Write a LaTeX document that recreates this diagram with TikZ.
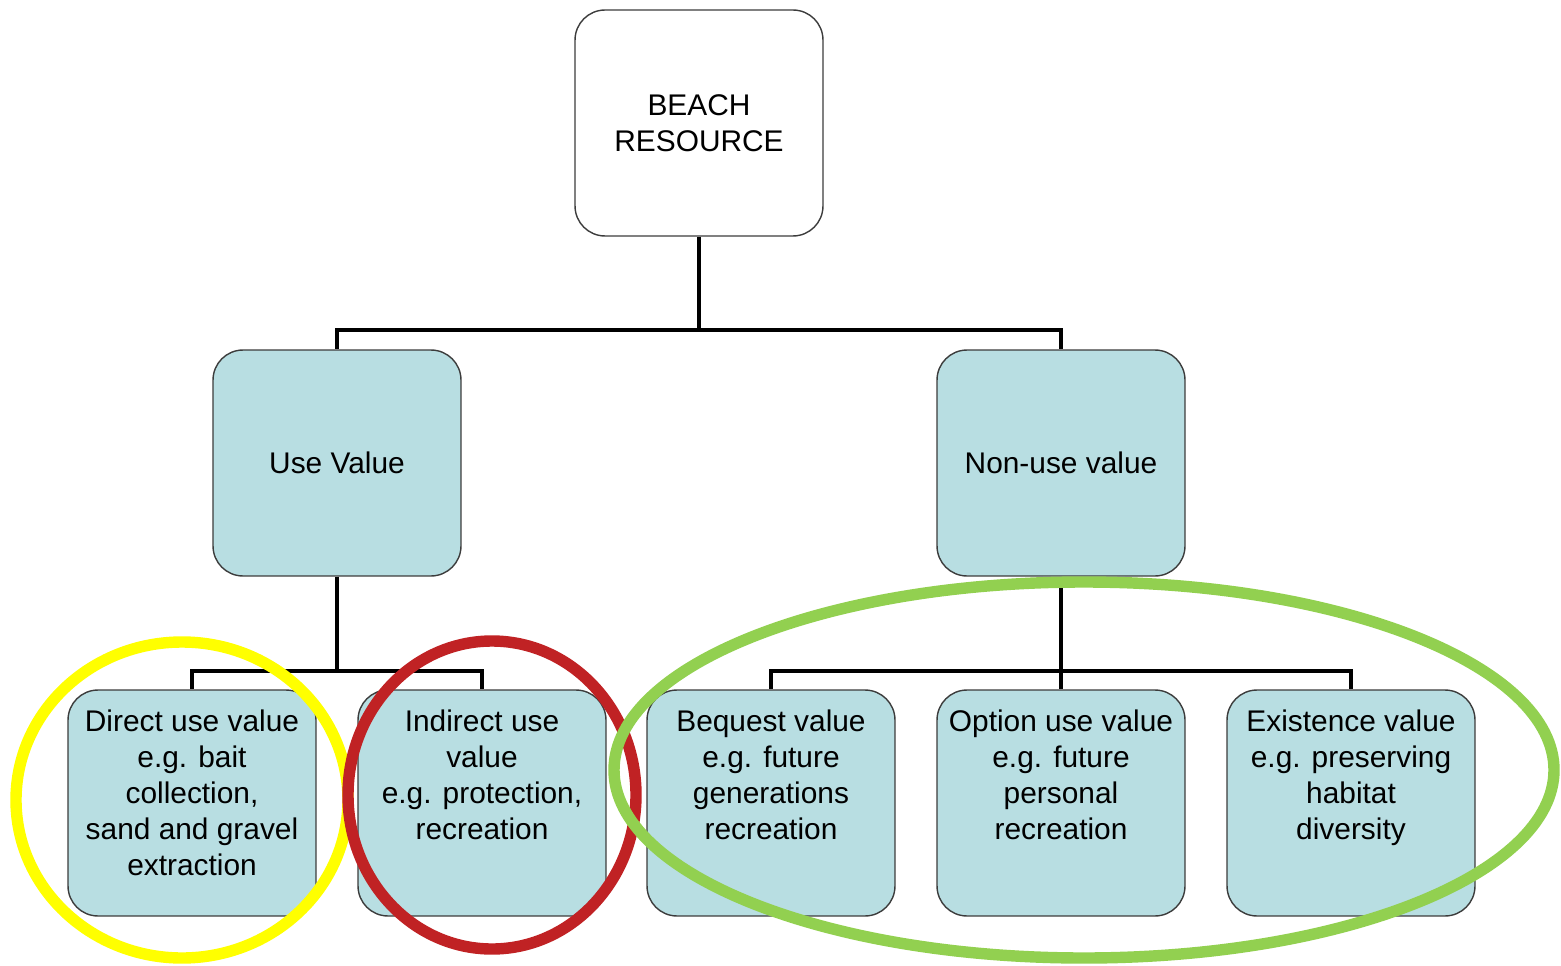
\documentclass[tikz,border=0pt]{standalone}
\usepackage{fontspec}
\setmainfont{Liberation Sans}
\usepackage{tikz}
\usetikzlibrary{positioning}
\usetikzlibrary{calc}
\definecolor{boxblue}{RGB}{184,222,226}
\definecolor{boxline}{RGB}{60,60,60}
\definecolor{ringyellow}{RGB}{255,255,0}
\definecolor{ringred}{RGB}{192,34,36}
\definecolor{ringgreen}{RGB}{146,208,80}

\tikzset{
    valuebox/.style={draw=boxline, line width=0.8pt, rounded corners=0.6cm, minimum width=4.96cm, minimum height=4.52cm, align=center},
    leafbox/.style={valuebox, fill=boxblue, inner sep=0pt},
    link/.style={line width=2.2pt, black},
    ring/.style={line width=6.5pt}
}
\newcommand{\leaftext}[1]{\parbox[c][4.2cm][t]{4.9cm}{\vspace*{0.24cm}\centering #1}}

\begin{document}
\begin{tikzpicture}[x=0.02cm, y=-0.02cm, every node/.style={font=\fontsize{17}{20.5}\selectfont}]
        \useasboundingbox (0,0) rectangle (1561,966);

        % Top box
        \node[valuebox, fill=white] (beach) at (699,123) {BEACH\\RESOURCE};

        % Middle boxes
        \node[valuebox, fill=boxblue] (use) at (337,463) {Use Value};
        \node[valuebox, fill=boxblue] (nonuse) at (1061,463) {Non-use value};

        % Bottom boxes
        \node[leafbox] (direct) at (192,803) {\leaftext{Direct use value\\e.g. bait\\collection,\\sand and gravel\\extraction}};
        \node[leafbox] (indirect) at (482,803) {\leaftext{Indirect use\\value\\e.g. protection,\\recreation}};
        \node[leafbox] (bequest) at (771,803) {\leaftext{Bequest value\\e.g. future\\generations\\recreation}};
        \node[leafbox] (option) at (1061,803) {\leaftext{Option use value\\e.g. future\\personal\\recreation}};
        \node[leafbox] (existence) at (1351,803) {\leaftext{Existence value\\e.g. preserving\\habitat\\diversity}};

        % Connectors
        \coordinate (topbus) at (699,330);
        \coordinate (usebus) at (337,671);
        \coordinate (nonusebus) at (1061,671);
        \draw[link] (beach) -- (topbus) -| (use);
        \draw[link] (topbus) -| (nonuse);
        \draw[link] (use) -- (usebus) -| (direct);
        \draw[link] (usebus) -| (indirect);
        \draw[link] (nonuse) -- (nonusebus) -| (bequest);
        \draw[link] (nonusebus) -| (existence);
        \draw[link] (nonusebus) -- (option);

        % Highlight rings
        \draw[ring, ringyellow] (182,800) ellipse [x radius=166, y radius=158];
        \draw[ring, ringred] (492,795) ellipse [x radius=144, y radius=154];
        \draw[ring, ringgreen] (1084,770) ellipse [x radius=470, y radius=188];

    \end{tikzpicture}
\end{document}
